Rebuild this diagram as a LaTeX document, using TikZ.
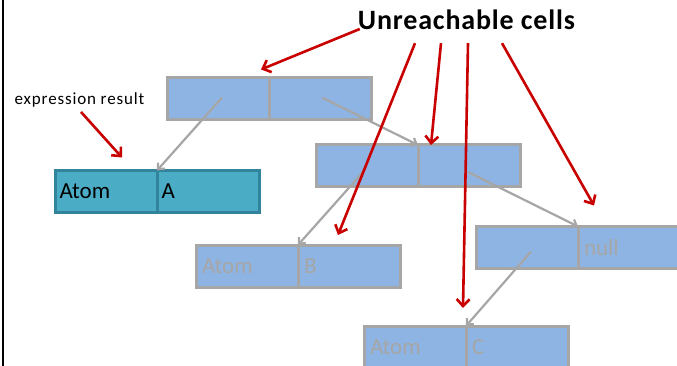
\documentclass[tikz,border=0pt]{standalone}
\usepackage{fontspec}
\setmainfont{Carlito}
\newfontfamily\titlefamily[LetterSpace=3]{Carlito}
\newfontfamily\notefamily[LetterSpace=5]{Carlito}
\usetikzlibrary{arrows.meta}
\definecolor{cellblue}{HTML}{8EB4E3}
\definecolor{cellgray}{HTML}{A6A6A6}
\definecolor{atomfill}{HTML}{4BACC6}
\definecolor{atomline}{HTML}{31849B}
\definecolor{alert}{HTML}{C80000}
\begin{document}
\begin{tikzpicture}[x=1pt,y=-1pt,
  cell/.style={draw=cellgray, line width=3pt, fill=cellblue, minimum height=42pt,
    text width=90pt, inner xsep=6pt, inner ysep=0pt, outer sep=0pt, align=left,
    anchor=west, text=cellgray, font=\fontsize{23}{27}\selectfont},
  live/.style={cell, fill=atomfill, draw=atomline, text=black, inner xsep=4.5pt, text width=93pt},
  ptr/.style={draw=cellgray, line width=2.2pt, -{Straight Barb[length=5pt,width=9pt]}},
  note/.style={draw=alert, line width=2.6pt, -{Straight Barb[length=7pt,width=13pt]}},
]
\useasboundingbox (0,0) rectangle (677,366);

% frame edge on the left
\draw[line width=2pt] (3,0) -- (3,366);

% cons cells: each one is a pair of boxes
\node[cell] (b1l) at (167,98.5) {};
\node[cell] (b1r) at (b1l.east) {};

\node[cell] (b2l) at (316,166) {};
\node[cell] (b2r) at (b2l.east) {};

\node[live] (al) at (55,191.5) {Atom};
\node[live] (ar) at (al.east) {A};

\node[cell] (bl) at (196,266) {Atom};
\node[cell] (br) at (bl.east) {B};

\node[cell] (nl) at (476,247.5) {};
\node[cell] (nr) at (nl.east) {null};

\node[cell] (cl) at (364,347) {Atom};
\node[cell] (cr) at (cl.east) {C};

% labels
\node[font=\titlefamily\bfseries\fontsize{28}{32}\selectfont, minimum height=46pt,
      inner sep=0pt] (title) at (466.5,20) {Unreachable cells};
\node[font=\notefamily\fontsize{17}{20}\selectfont, inner sep=0pt] (expr) at (79.5,99.5)
      {expression result};

% pointers between cells
\draw[ptr] ([shift={(4,-1)}]b1l.center) -- (al.north east);
\draw[ptr] ([shift={(2,-1)}]b1r.center) -- (b2l.north east);
\draw[ptr] ([shift={(-4,6)}]b2l.center) -- (bl.north east);
\draw[ptr] ([shift={(-1,6)}]b2r.center) -- (nl.north east);
\draw[ptr] ([shift={(4,4)}]nl.center) -- (cl.north east);

% callout arrows
\draw[note] ([shift={(1.5,5)}]expr.south) -- ([shift={(16,-13)}]al.north);
\draw[note] ([shift={(2,9)}]title.west) -- ([shift={(-8,-8)}]b1l.north east);
\draw[note] ([shift={(-51.5,0)}]title.south) -- ([shift={(-11,-10)}]br.north);
\draw[note] ([shift={(-25.5,0)}]title.south) -- ([shift={(13,0)}]b2r.north west);
\draw[note] ([shift={(1.5,0)}]title.south) -- ([shift={(-3,-18)}]cr.north west);
\draw[note] ([shift={(35.5,0)}]title.south) -- ([shift={(16,-21)}]nr.north west);
\end{tikzpicture}
\end{document}
